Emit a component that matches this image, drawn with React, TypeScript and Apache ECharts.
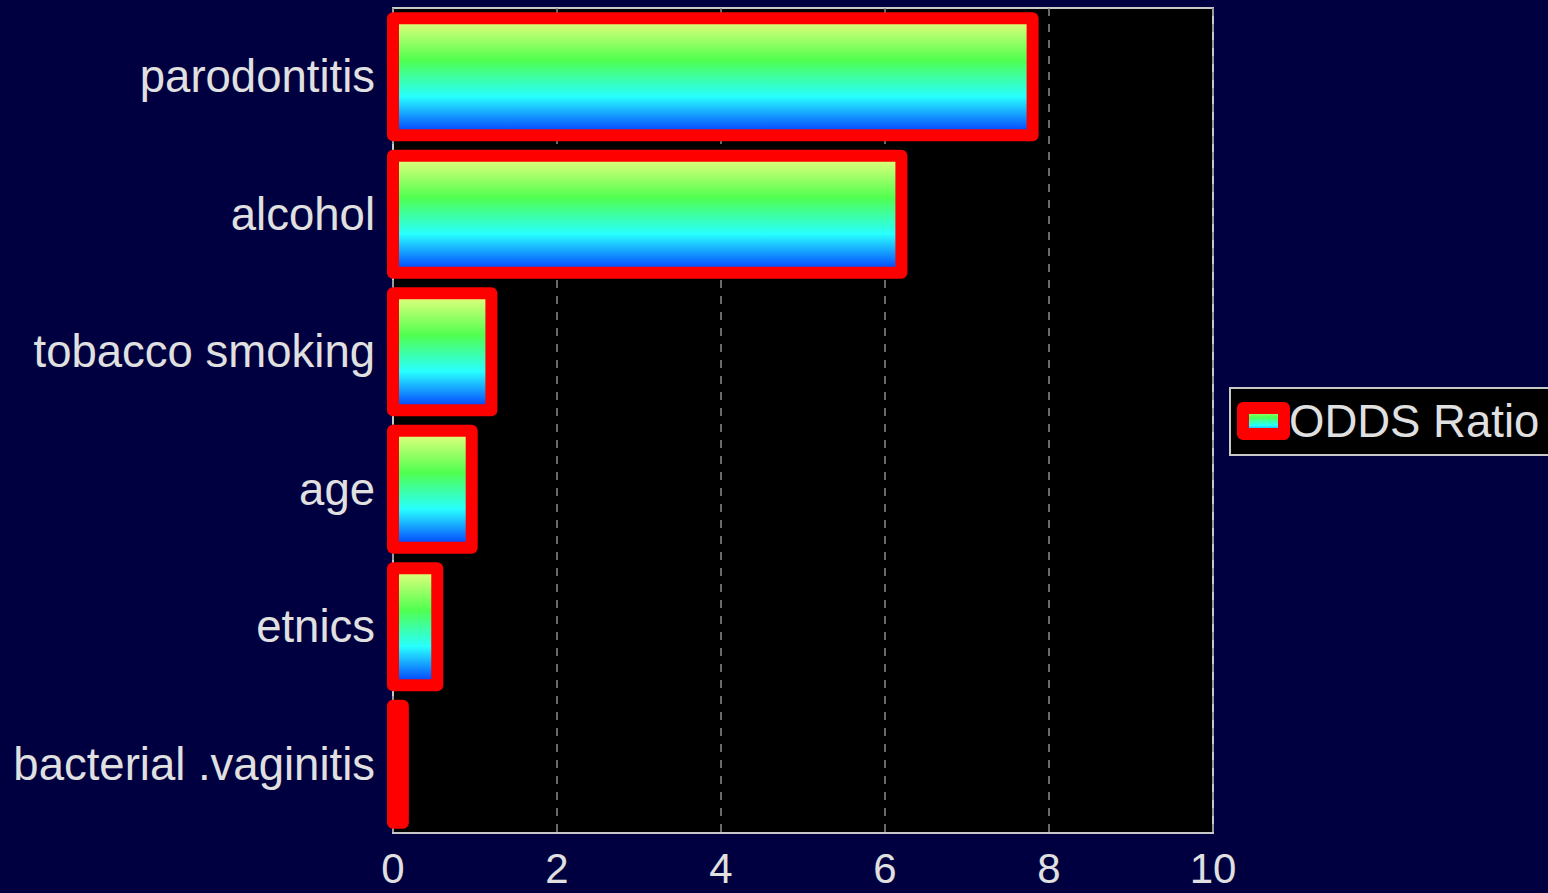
import React, { useEffect, useRef } from "react";
import * as echarts from "echarts";

const categories = ["bacterial .vaginitis", "etnics", "age", "tobacco smoking", "alcohol", "parodontitis"];
const oddsRatio = [0.12, 0.54, 0.96, 1.2, 6.2, 7.8];
const seriesName = "ODDS Ratio";
const xTicks = { min: 0, max: 10, interval: 2 };

const FONT = "Liberation Sans, Arial, sans-serif";

export default function App() {
  const ref = useRef<HTMLDivElement>(null);
  useEffect(() => {
    const chart = echarts.init(ref.current!, null, { renderer: "svg" });
    const makeGrad = () =>
      new echarts.graphic.LinearGradient(0, 0, 0, 1, [
        { offset: 0, color: "#eeff80" },
        { offset: 0.36, color: "#50ff50" },
        { offset: 0.67, color: "#28ffff" },
        { offset: 1, color: "#0030ff" },
      ]);
    chart.setOption({
      animation: false,
      backgroundColor: "#000040",
      textStyle: { fontFamily: FONT },
      grid: {
        left: 393,
        top: 8,
        right: 335,
        bottom: 60,
        show: true,
        backgroundColor: "#000000",
        borderColor: "#c8c8c8",
        borderWidth: 2,
        containLabel: false,
      },
      legend: {
        data: [{ name: seriesName, icon: "rect" }],
        left: 1230,
        top: 388,
        orient: "vertical",
        backgroundColor: "#000000",
        borderColor: "#c8c8c8",
        borderWidth: 2,
        borderRadius: 0,
        padding: [10, 12, 11, 7],
        itemWidth: 41,
        itemHeight: 26,
        textStyle: { color: "#e0e0e0", fontSize: 45.5, fontFamily: FONT },
        itemStyle: { color: makeGrad(), borderColor: "#ff0000", borderWidth: 12, borderJoin: "round" },
      },
      xAxis: {
        type: "value",
        min: xTicks.min,
        max: xTicks.max,
        interval: xTicks.interval,
        axisLine: { show: false },
        axisTick: { show: false },
        axisLabel: {
          color: "#e0e0e0",
          fontSize: 42,
          margin: 14,
          fontFamily: FONT,
        },
        splitLine: { show: true, lineStyle: { color: "#8c8c8c", type: [8, 8], width: 1.5 } },
      },
      yAxis: {
        type: "category",
        data: categories,
        axisLine: { show: false },
        axisTick: { show: false },
        axisLabel: { color: "#e0e0e0", fontSize: 45.5, margin: 18, fontFamily: FONT },
        splitLine: { show: false },
      },
      series: [
        {
          name: seriesName,
          type: "custom",
          encode: { x: 0, y: 1 },
          data: oddsRatio.map((v, i) => [v, i]),
          itemStyle: { color: makeGrad(), borderColor: "#ff0000", borderWidth: 12 },
          renderItem: (params: any, api: any) => {
            const val = api.value(0);
            const idx = api.value(1);
            const start = api.coord([0, idx]);
            const end = api.coord([val, idx]);
            const band = api.size([0, 1])[1];
            const h = band * 0.85;
            return {
              type: "rect",
              shape: { x: start[0], y: start[1] - h / 2, width: end[0] - start[0], height: h },
              style: {
                fill: makeGrad(),
                stroke: "#ff0000",
                lineWidth: 12,
                lineJoin: "round",
              },
            };
          },
        },
      ],
    });
    return () => chart.dispose();
  }, []);
  return <div ref={ref} style={{ width: 1548, height: 893, position: "absolute", left: 0, top: 0 }} />;
}
